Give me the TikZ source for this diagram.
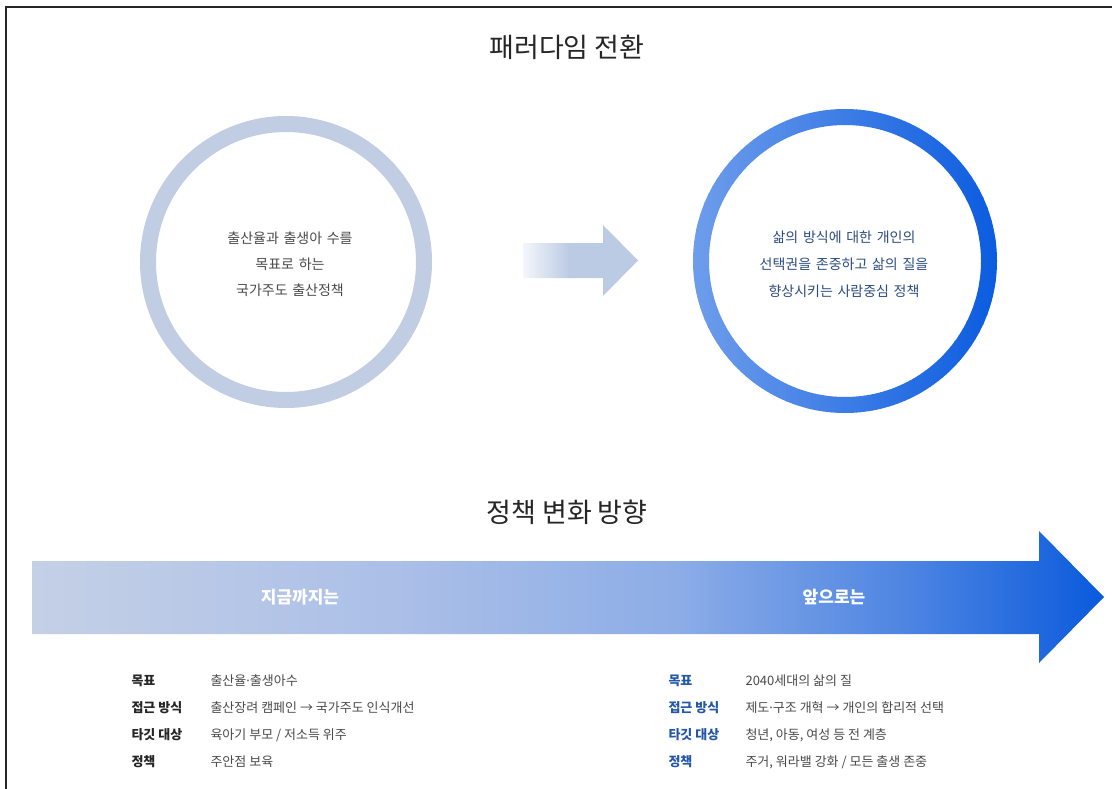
\documentclass[tikz,border=0pt]{standalone}
\usepackage{fontspec}
\setmainfont{Noto Sans CJK KR}
\newfontfamily\latinfont{Noto Sans}
\usetikzlibrary{shadings}
\definecolor{ringL}{HTML}{C1CDE3}
\definecolor{ringA}{HTML}{6E9DEB}
\definecolor{ringB}{HTML}{0A5BE0}
\definecolor{txtgray}{HTML}{4A4A4A}
\definecolor{txtblue}{HTML}{2B4C80}
\definecolor{lblblue}{HTML}{2357A8}
\definecolor{gA}{HTML}{C4D0E6}
\definecolor{gB}{HTML}{ABBFE7}
\definecolor{gC}{HTML}{8DADE7}
\definecolor{gD}{HTML}{4C84E2}
\definecolor{gE}{HTML}{0A5ADC}
\definecolor{sA}{HTML}{F4F6FB}
\definecolor{sB}{HTML}{BCCBE4}
\pgfdeclarehorizontalshading{bigarrow}{100bp}{color(0bp)=(gA); color(25bp)=(gA); color(42bp)=(gB); color(55bp)=(gC); color(66bp)=(gD); color(75bp)=(gE); color(100bp)=(gE)}
\pgfdeclarehorizontalshading{smallarrow}{100bp}{color(0bp)=(sA); color(25bp)=(sA); color(45bp)=(sB); color(75bp)=(sB); color(100bp)=(sB)}
\newcommand{\mdot}{{\latinfont ·}}
\tikzset{
  title/.style={font=\fontsize{27}{31}\selectfont, text=black!85},
  circtxt/.style={font=\fontsize{14}{16}\selectfont, align=center},
  lbl/.style={anchor=west, font=\fontsize{13}{15}\selectfont\bfseries},
  val/.style={anchor=west, font=\fontsize{13}{15}\selectfont, text=txtgray},
  arrtxt/.style={font=\fontsize{17}{20}\selectfont\bfseries, text=white},
}
\begin{document}
\begin{tikzpicture}[x=1pt,y=-1pt]
\useasboundingbox (0,0) rectangle (1112,789);
\fill[white] (0,0) rectangle (1112,789);
% border
\draw[line width=1.6pt, black!85] (6,789) -- (6,7) -- (1112,7);
% titles
\node[title] (t1) at (567,47) {패러다임 전환};
\node[title] (t2) at (567,512) {정책 변화 방향};
% left ring
\draw[ringL, line width=16pt] (286,262) circle[radius=138pt];
% right ring: gradient built from vertical strips
\foreach \i in {0,...,75}{
  \pgfmathsetmacro{\p}{100*\i/75}
  \pgfmathsetmacro{\xs}{692+\i*4.1}
  \begin{scope}
    \clip (\xs,100) rectangle ++(4.6,330);
    \draw[color=ringB!\p!ringA, line width=16pt] (845,261) circle[radius=144pt];
  \end{scope}
}
% circle texts
\node[circtxt, text=txtgray, text width=220pt] (lt1) at (290,238) {출산율과 출생아 수를};
\node[circtxt, text=txtgray, text width=220pt] (lt2) at (290,264) {목표로 하는};
\node[circtxt, text=txtgray, text width=220pt] (lt3) at (290,290) {국가주도 출산정책};
\node[circtxt, text=txtblue, text width=240pt] (rt1) at (844,237) {삶의 방식에 대한 개인의};
\node[circtxt, text=txtblue, text width=240pt] (rt2) at (844,264) {선택권을 존중하고 삶의 질을};
\node[circtxt, text=txtblue, text width=240pt] (rt3) at (844,291) {향상시키는 사람중심 정책};
% small arrow
\shade[shading=smallarrow] (523,243) -- (603,243) -- (603,225) -- (638,260.5) -- (603,296) -- (603,278) -- (523,278) -- cycle;
% big arrow
\shade[shading=bigarrow] (32,561) -- (1039,561) -- (1039,531) -- (1104,597) -- (1039,663) -- (1039,634) -- (32,634) -- cycle;
\node[arrtxt] (a1) at (300,597) {지금까지는};
\node[arrtxt] (a2) at (834,597) {앞으로는};
% left table
\node[lbl, text=black!85] (l1) at (128,681) {목표};
\node[lbl, text=black!85] (l2) at (128,708) {접근 방식};
\node[lbl, text=black!85] (l3) at (128,735) {타깃 대상};
\node[lbl, text=black!85] (l4) at (128,762) {정책};
\node[val] (v1) at (207,681) {출산율\mdot 출생아수};
\node[val] (v2) at (207,708) {출산장려 캠페인 → 국가주도 인식개선};
\node[val] (v3) at (207,735) {육아기 부모 / 저소득 위주};
\node[val] (v4) at (207,762) {주안점 보육};
% right table
\node[lbl, text=lblblue] (r1) at (665,681) {목표};
\node[lbl, text=lblblue] (r2) at (665,708) {접근 방식};
\node[lbl, text=lblblue] (r3) at (665,735) {타깃 대상};
\node[lbl, text=lblblue] (r4) at (665,762) {정책};
\node[val] (w1) at (742,681) {2040세대의 삶의 질};
\node[val] (w2) at (742,708) {제도\mdot 구조 개혁 → 개인의 합리적 선택};
\node[val] (w3) at (742,735) {청년, 아동, 여성 등 전 계층};
\node[val] (w4) at (742,762) {주거, 워라밸 강화 / 모든 출생 존중};
\end{tikzpicture}
\end{document}
